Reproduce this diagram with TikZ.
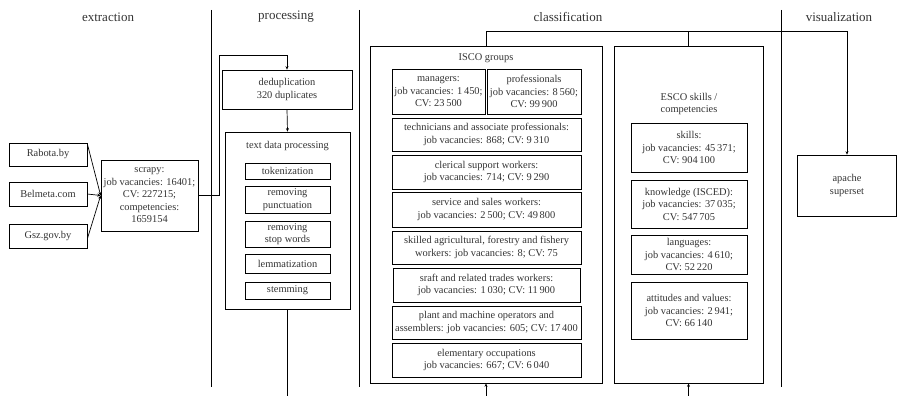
\documentclass[tikz,border=0pt]{standalone}
\usepackage{fontspec}
\setmainfont{Liberation Serif}
\usetikzlibrary{arrows.meta}
\usetikzlibrary{positioning}

\begin{document}
\begin{tikzpicture}[x=1pt, y=-1pt,
    >={Stealth[length=3.5pt,width=3pt]},
    box/.style={draw, line width=0.7pt, inner sep=1pt, align=center, text=black!80,
        font=\fontsize{10.4}{12.5}\selectfont},
    label/.style={inner sep=0pt, align=center, text=black!80,
        font=\fontsize{10.4}{12.5}\selectfont},
    header/.style={inner sep=0pt, text=black!80, font=\fontsize{13}{15}\selectfont},
    line/.style={line width=0.7pt}]
    \useasboundingbox (0,0) rectangle (897,396);

    % Column headers and dividers
    \node[header] (hextr) at (108,17) {extraction};
    \node[header] (hproc) at (286,17) {processing};
    \node[header] (hclass) at (568,17) {classification};
    \node[header] (hvis) at (839,17) {visualization};
    \foreach \x in {211.5,359,781} {
        \draw[line] (\x,10) -- (\x,387);
    }

    % Extraction
    \node[box, minimum width=78, minimum height=23] (rabota) at (48,154.5) {Rabota.by};
    \node[box, minimum width=78, minimum height=24] (belmeta) at (48,194) {Belmeta.com};
    \node[box, minimum width=78, minimum height=24] (gsz) at (48,236) {Gsz.gov.by};
    \node[box, minimum width=97, minimum height=71, inner sep=0pt] (scrapy) at (149.5,195.5)
        {scrapy:\\job vacancies: 16401;\\CV: 227215;\\competencies:\\1659154};
    \draw[line, ->] (rabota.15) -- (scrapy.west);
    \draw[line, ->] (belmeta.east) -- (scrapy.west);
    \draw[line, ->] (gsz.-4) -- (scrapy.west);

    % Processing
    \node[box, minimum width=130, minimum height=39] (dedup) at (287,89.5)
        {deduplication\\320 duplicates};
    \node[box, minimum width=125, minimum height=177] (textdata) at (287.5,220.5) {};
    \node[label] (textdatatitle) at (287.5,146) {text data processing};
    \node[box, minimum width=85, minimum height=16] (tok) at (287.5,171) {tokenization};
    \node[box, minimum width=85, minimum height=27] (punct) at (287.5,199.5) {removing\\punctuation};
    \node[box, minimum width=85, minimum height=26] (stopw) at (287.5,234) {removing\\stop words};
    \node[box, minimum width=85, minimum height=19] (lemma) at (287.5,263.5) {lemmatization};
    \node[box, minimum width=85, minimum height=17] (stem) at (287.5,290.5) {stemming};
    \coordinate (loop) at (219,55);
    \draw[line, ->] (scrapy.east) -| (loop) -| (dedup.north);
    \draw[line, ->] (dedup.south) -- (textdata.north);
    \coordinate (procend) at (287.5,396);
    \draw[line] (textdata.south) -- (procend);

    % Classification: ISCO groups
    \node[box, minimum width=232, minimum height=337] (isco) at (486,214.5) {};
    \node[label] (iscotitle) at (486,58) {ISCO groups};
    \node[box, minimum width=93, minimum height=45] (managers) at (438.5,91.5)
        {managers:\\job vacancies: 1\,450;\\CV: 23\,500};
    \node[box, minimum width=94, minimum height=45] (profs) at (534,91.5)
        {professionals\\job vacancies: 8\,560;\\CV: 99\,900};
    \node[box, minimum width=189, minimum height=33] (techs) at (486.5,134.5)
        {technicians and associate professionals:\\job vacancies: 868; CV: 9\,310};
    \node[box, minimum width=189, minimum height=34] (clerical) at (486.5,172)
        {clerical support workers:\\job vacancies: 714; CV: 9\,290};
    \node[box, minimum width=189, minimum height=35] (service) at (486.5,209.5)
        {service and sales workers:\\job vacancies: 2\,500; CV: 49\,800};
    \node[box, minimum width=189, minimum height=33] (skilled) at (486.5,247.5)
        {skilled agricultural, forestry and fishery\\workers: job vacancies: 8; CV: 75};
    \node[box, minimum width=187, minimum height=34] (sraft) at (486.5,285)
        {sraft and related trades workers:\\job vacancies: 1\,030; CV: 11\,900};
    \node[box, minimum width=189, minimum height=33] (plant) at (486.5,322.5)
        {plant and machine operators and\\assemblers: job vacancies: 605; CV: 17\,400};
    \node[box, minimum width=189, minimum height=34] (elem) at (486.5,360)
        {elementary occupations\\job vacancies: 667; CV: 6\,040};

    % Classification: ESCO skills / competencies
    \node[box, minimum width=149, minimum height=337] (esco) at (688.5,214.5) {};
    \node[label] (escotitle) at (689,104) {ESCO skills /\\competencies};
    \node[box, minimum width=116, minimum height=49] (skills) at (689,147.5)
        {skills:\\job vacancies: 45\,371;\\CV: 904\,100};
    \node[box, minimum width=116, minimum height=48] (knowledge) at (689,204)
        {knowledge (ISCED):\\job vacancies: 37\,035;\\CV: 547\,705};
    \node[box, minimum width=116, minimum height=39] (languages) at (689,254.5)
        {languages:\\job vacancies: 4\,610;\\CV: 52\,220};
    \node[box, minimum width=116, minimum height=57] (attitudes) at (689,310.5)
        {attitudes and values:\\job vacancies: 2\,941;\\CV: 66\,140};
    \coordinate (iscoin) at (486,396);
    \coordinate (escoin) at (688.5,396);
    \draw[line, ->] (iscoin) -- (isco.south);
    \draw[line, ->] (escoin) -- (esco.south);

    % Visualization
    \node[box, minimum width=99, minimum height=61] (apache) at (847,185.5)
        {apache\\superset};
    \coordinate (bus) at (0,31);
    \draw[line, ->] (isco.north) |- (apache.north |- bus) -- (apache.north);
    \draw[line] (esco.north) -- (esco.north |- bus);
\end{tikzpicture}
\end{document}
